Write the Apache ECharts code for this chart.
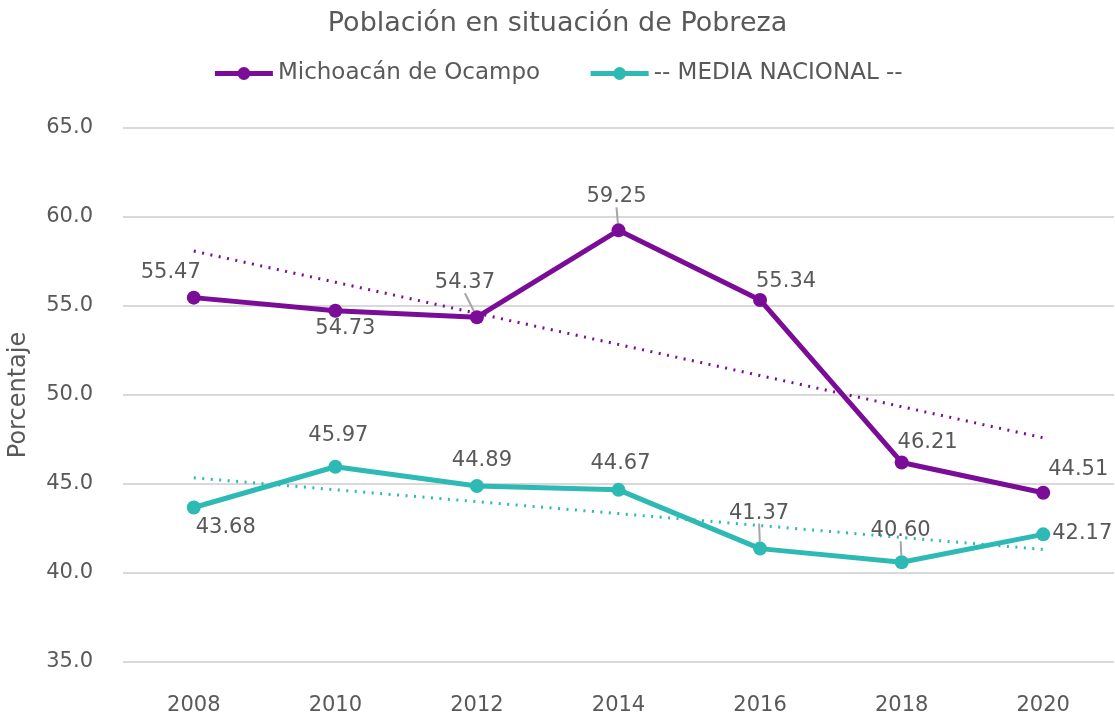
<!DOCTYPE html>
<html>
<head>
<meta charset="utf-8">
<script src="https://cdn.jsdelivr.net/npm/echarts@6/dist/echarts.min.js"></script>
<style>html,body{margin:0;padding:0;background:#fff}#c{width:1115px;height:720px}</style>
</head>
<body>
<div id="c"></div>
<script>
const years = ['2008','2010','2012','2014','2016','2018','2020'];
const michoacan = [55.47, 54.73, 54.37, 59.25, 55.34, 46.21, 44.51];
const nacional = [43.68, 45.97, 44.89, 44.67, 41.37, 40.60, 42.17];
const yTicks = [35, 40, 45, 50, 55, 60, 65];

const PURPLE = '#7b0c98';
const TEAL = '#2ebab4';
const TXT = '#595959';
const FONT = 'DejaVu Sans';

// label placement (dx, dy relative to 'top' position) and leader flags
const offM = [[-23,-3],[10,40],[-12,-12],[-2,-11],[26,4],[26,3],[35,-1]];
const leadM = [false,false,true,true,false,false,false];
const offN = [[32,43],[3,-9],[5,-3],[2,-4],[-1,-13],[-1,-9],[39,22]];
const leadN = [false,false,false,false,true,true,false];

function trend(vals){
  const n = vals.length;
  const mx = (n-1)/2;
  const my = vals.reduce((a,b)=>a+b,0)/n;
  let sxy=0, sxx=0;
  vals.forEach((v,i)=>{sxy+=(i-mx)*(v-my); sxx+=(i-mx)*(i-mx);});
  const b = sxy/sxx, a = my - b*mx;
  return vals.map((v,i)=>+(a+b*i).toFixed(3));
}

function mkData(vals, lead){
  return vals.map((v,i)=>({value:v, labelLine:{show:lead[i]}}));
}

const chart = echarts.init(document.getElementById('c'), null, {renderer:'canvas'});
const labelStyle = {show:true, position:'top', distance:5, color:TXT, fontFamily:FONT, fontSize:21,
  formatter:p=>p.value.toFixed(2)};
chart.setOption({
  animation:false,
  textStyle:{fontFamily:FONT},
  title:{text:'Población en situación de Pobreza', left:'center', top:5,
    textStyle:{color:TXT, fontFamily:FONT, fontSize:27, fontWeight:'normal'}},
  legend:{data:['Michoacán de Ocampo','-- MEDIA NACIONAL --'], top:57, left:'center', itemGap:48,
    itemWidth:58, itemHeight:16,
    lineStyle:{width:5},
    textStyle:{color:TXT, fontFamily:FONT, fontSize:23}},
  grid:{left:123, right:1, top:128, bottom:58, outerBoundsMode:'none', containLabel:false},
  xAxis:{type:'category', data:years, boundaryGap:true,
    axisLine:{show:false}, axisTick:{show:false},
    axisLabel:{color:TXT, fontFamily:FONT, fontSize:21, margin:33}},
  yAxis:{type:'value', min:35, max:65, interval:5,
    name:'Porcentaje', nameLocation:'middle', nameGap:92, nameRotate:90,
    nameTextStyle:{color:TXT, fontFamily:FONT, fontSize:24},
    axisLine:{show:false}, axisTick:{show:false},
    axisLabel:{color:TXT, fontFamily:FONT, fontSize:21, margin:30,
      formatter:v=>yTicks.includes(v)?v.toFixed(1):''},
    splitLine:{lineStyle:{color:'#d9d9d9', width:2}}},
  series:[
    {name:'Michoacán de Ocampo', type:'line', data:mkData(michoacan, leadM),
      symbol:'circle', symbolSize:14, z:5,
      lineStyle:{color:PURPLE, width:5}, itemStyle:{color:PURPLE},
      label:labelStyle,
      labelLine:{show:false, lineStyle:{color:'#a6a6a6', width:2}},
      labelLayout:p=>({dx:offM[p.dataIndex][0], dy:offM[p.dataIndex][1]})},
    {name:'-- MEDIA NACIONAL --', type:'line', data:mkData(nacional, leadN),
      symbol:'circle', symbolSize:14, z:5,
      lineStyle:{color:TEAL, width:5}, itemStyle:{color:TEAL},
      label:labelStyle,
      labelLine:{show:false, lineStyle:{color:'#a6a6a6', width:2}},
      labelLayout:p=>({dx:offN[p.dataIndex][0], dy:offN[p.dataIndex][1]})},
    {name:'trendM', type:'line', data:trend(michoacan), symbol:'none', z:3, silent:true,
      lineStyle:{color:PURPLE, width:3, type:[2,6.5]}},
    {name:'trendN', type:'line', data:trend(nacional), symbol:'none', z:3, silent:true,
      lineStyle:{color:TEAL, width:3, type:[2,6.5]}}
  ]
});
</script>
</body>
</html>
